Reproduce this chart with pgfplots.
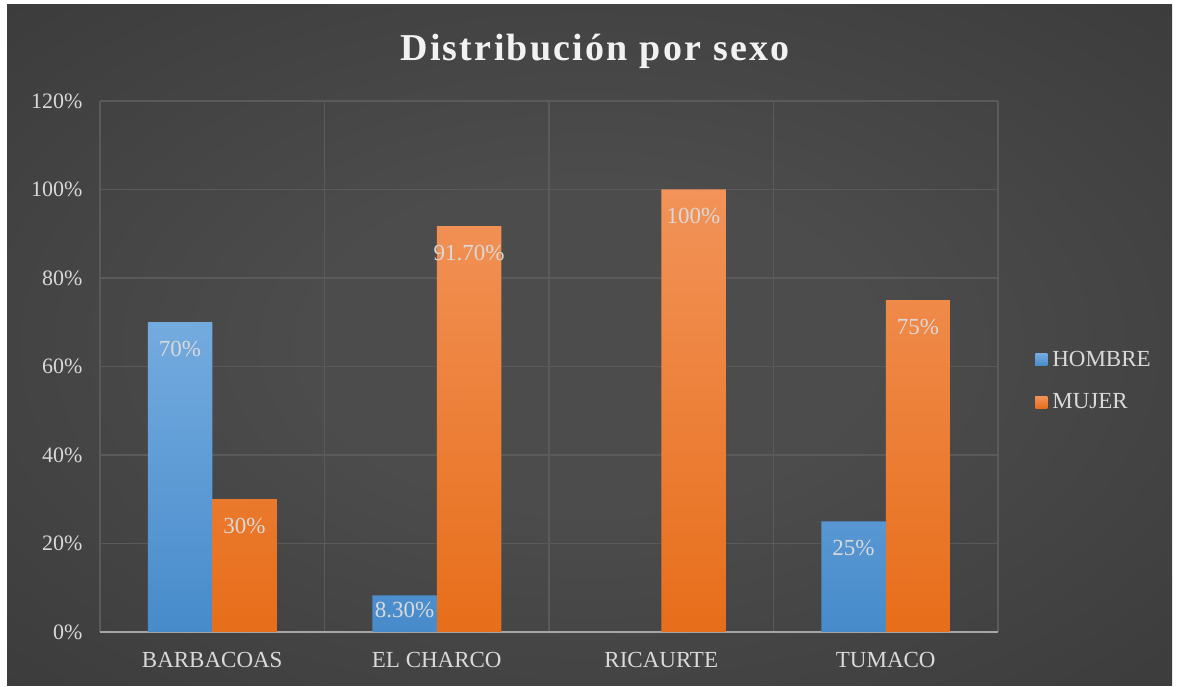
\documentclass[border=0pt]{standalone}
\usepackage{pgfplots}
\pgfplotsset{compat=1.18}
\usepackage{pgfplotstable}
\usepackage{fontspec}
\setmainfont{Liberation Serif}
\newfontfamily\titlefont[LetterSpace=6]{Liberation Serif}

\definecolor{bgin}{HTML}{4C4C4C}
\definecolor{bgout}{HTML}{232323}
\definecolor{btop}{HTML}{74ABDF}
\definecolor{bbot}{HTML}{478BCB}
\definecolor{otop}{HTML}{F29359}
\definecolor{obot}{HTML}{E76E1A}
\definecolor{gridc}{HTML}{5A5A5A}
\definecolor{txt}{HTML}{D9D9D9}
\pgfdeclareradialshading{bgshade}{\pgfpoint{0bp}{0bp}}{color(0bp)=(bgin); color(12bp)=(bgin); color(72bp)=(bgout)}

% values in percent
\pgfplotstableread{
x y lab dy
0 70 70 -27
1 8.3 8.30 -15
3 25 25 -27
}\hombre
\pgfplotstableread{
x y lab dy
0 30 30 -27
1 91.7 91.70 -27
2 100 100 -27
3 75 75 -27
}\mujer

\begin{document}
\begin{tikzpicture}
  \fill[white] (0bp,0bp) rectangle (1178bp,687bp);
  \shade[shading=bgshade] (7bp,1bp) rectangle (1172bp,682bp);
  \node[text=white!95!black, font=\titlefont\bfseries\fontsize{38bp}{42bp}\selectfont] at (595bp,636bp) {Distribución por sexo};
  \begin{axis}[
      at={(100bp,55bp)}, anchor=south west,
      width=898bp, height=531bp, scale only axis,
      ybar=0pt, bar width=64.5bp,
      xmin=-0.5, xmax=3.5, ymin=0, ymax=120,
      xtick={0,1,2,3}, xticklabels={BARBACOAS,EL CHARCO,RICAURTE,TUMACO},
      minor xtick={-0.5,0.5,1.5,2.5,3.5},
      ytick={0,20,...,120},
      yticklabel={\pgfmathprintnumber{\tick}\%},
      /pgf/number format/assume math mode=true,
      major tick length=0pt, minor tick length=0pt,
      ymajorgrids, xminorgrids,
      major grid style={draw=gridc, line width=1.3bp},
      minor grid style={draw=gridc, line width=1.3bp},
      axis x line*=bottom, axis y line*=left,
      x axis line style={draw=black!35, line width=2.5bp},
      y axis line style={draw=none},
      ticklabel style={text=txt, font=\fontsize{22bp}{26bp}\selectfont},
      yticklabel style={anchor=east, xshift=-14bp},
      xticklabel style={anchor=north, yshift=-17bp, font=\fontsize{23bp}{27bp}\selectfont},
      point meta=explicit symbolic,
      nodes near coords={\pgfplotspointmeta\%},
      visualization depends on={\thisrow{dy}\as\dy},
      every node near coord/.append style={anchor=center, yshift=\dy bp, text=txt, font=\fontsize{23bp}{27bp}\selectfont},
      legend style={at={(1.038,0.473)}, anchor=west, draw=none, fill=none,
        text=txt, font=\fontsize{23bp}{27bp}\selectfont, row sep=22bp,
        /tikz/every odd column/.append style={column sep=3bp}},
      legend cell align=left,
    ]
    \addplot[draw=none, top color=btop, bottom color=bbot,
      legend image code/.code={\fill[color=btop!80!bbot] (0bp,-6bp) rectangle (12bp,6bp);}]
      table[x=x, y=y, meta=lab] {\hombre};
    \addplot[draw=none, top color=otop, bottom color=obot,
      legend image code/.code={\fill[color=otop!40!obot] (0bp,-6bp) rectangle (12bp,6bp);}]
      table[x=x, y=y, meta=lab] {\mujer};
    \legend{HOMBRE, MUJER}
  \end{axis}
\end{tikzpicture}
\end{document}
